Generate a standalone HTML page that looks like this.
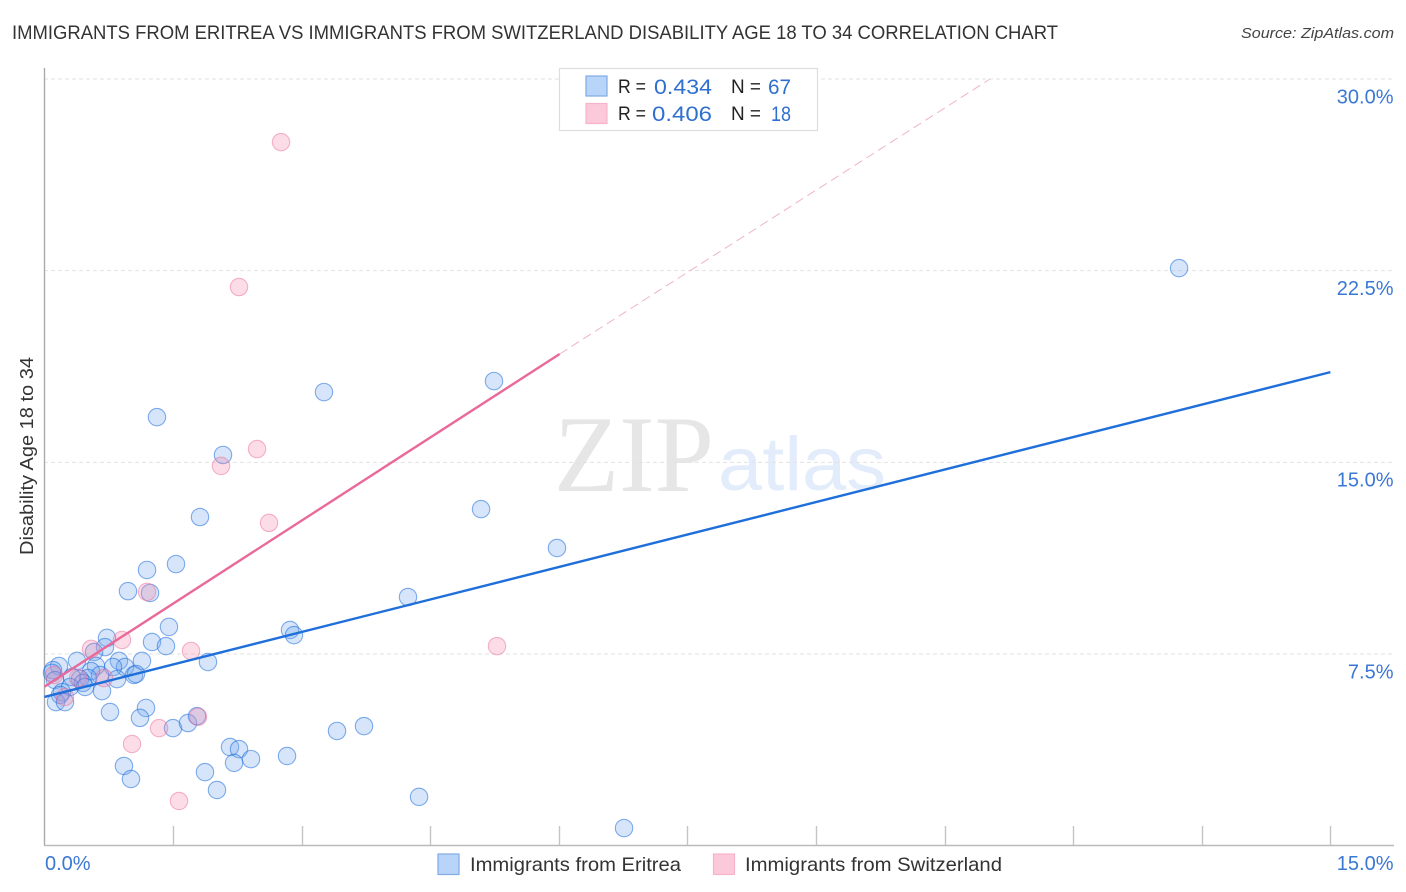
<!DOCTYPE html>
<html lang="en">
<head>
<meta charset="utf-8">
<title>Immigrants from Eritrea vs Immigrants from Switzerland Disability Age 18 to 34 Correlation Chart</title>
<style>
html,body{margin:0;padding:0;background:#fff;}
body{width:1406px;height:892px;overflow:hidden;}
svg{display:block;}
text{font-family:"Liberation Sans",sans-serif;}
</style>
</head>
<body>
<svg id="chart" width="1406" height="892" viewBox="0 0 1406 892" xmlns="http://www.w3.org/2000/svg">
  <text x="12" y="39" font-size="19" fill="#333" textLength="1046" lengthAdjust="spacingAndGlyphs">IMMIGRANTS FROM ERITREA VS IMMIGRANTS FROM SWITZERLAND DISABILITY AGE 18 TO 34 CORRELATION CHART</text>
  <text x="1241" y="38" font-size="15" font-style="italic" fill="#444" textLength="153" lengthAdjust="spacingAndGlyphs">Source: ZipAtlas.com</text>

  <g>
    <text x="554" y="491" font-size="109" fill="#e6e6e6" style="font-family:'Liberation Serif',serif" textLength="160" lengthAdjust="spacingAndGlyphs">ZIP</text>
    <text x="718" y="490" font-size="76" fill="#e3ecfa" textLength="168" lengthAdjust="spacingAndGlyphs">atlas</text>
  </g>

  <g id="grid"></g>
  <g id="axes">
    <line x1="44.5" y1="68" x2="44.5" y2="846" stroke="#aaa" stroke-width="1.4"/>
    <line x1="44" y1="845.5" x2="1394" y2="845.5" stroke="#bbb" stroke-width="1.4"/>
  </g>
  <g id="xticks"></g>
  <g id="ylabels"></g>
  <g id="xlabels"></g>

  <text transform="translate(33,456) rotate(-90)" text-anchor="middle" font-size="18.5" fill="#333" textLength="198" lengthAdjust="spacingAndGlyphs">Disability Age 18 to 34</text>

  <g id="blue-points"></g>
  <g id="pink-points"></g>
  <g id="trends"></g>

  <g>
    <rect x="559.5" y="68.5" width="258" height="62" fill="#fff" stroke="#ddd" stroke-width="1.2"/>
    <rect x="586" y="76" width="21" height="20" fill="#b8d4f8" stroke="#7fabe6" stroke-width="1.2"/>
    <rect x="586" y="103.5" width="21" height="20" fill="#fcc9da" stroke="#f7b3cb" stroke-width="1.2"/>
    <text x="618" y="93" font-size="19" fill="#222" textLength="28" lengthAdjust="spacingAndGlyphs">R =</text>
    <text x="654" y="94" font-size="21" fill="#2f6fd0" textLength="58" lengthAdjust="spacingAndGlyphs">0.434</text>
    <text x="731" y="93" font-size="19" fill="#222" textLength="30" lengthAdjust="spacingAndGlyphs">N =</text>
    <text x="768" y="94" font-size="21" fill="#2f6fd0" textLength="23" lengthAdjust="spacingAndGlyphs">67</text>
    <text x="618" y="120" font-size="19" fill="#222" textLength="28" lengthAdjust="spacingAndGlyphs">R =</text>
    <text x="652" y="121" font-size="21" fill="#2f6fd0" textLength="60" lengthAdjust="spacingAndGlyphs">0.406</text>
    <text x="731" y="120" font-size="19" fill="#222" textLength="30" lengthAdjust="spacingAndGlyphs">N =</text>
    <text x="771" y="121" font-size="21" fill="#2f6fd0" textLength="20" lengthAdjust="spacingAndGlyphs">18</text>
  </g>

  <g>
    <rect x="438" y="854" width="21" height="20.5" fill="#b8d4f8" stroke="#7fabe6" stroke-width="1.2"/>
    <text x="470" y="871" font-size="19.5" fill="#333" textLength="211" lengthAdjust="spacingAndGlyphs">Immigrants from Eritrea</text>
    <rect x="713.5" y="854" width="21" height="20.5" fill="#fcc9da" stroke="#f7b3cb" stroke-width="1.2"/>
    <text x="745" y="871" font-size="19.5" fill="#333" textLength="257" lengthAdjust="spacingAndGlyphs">Immigrants from Switzerland</text>
  </g>
</svg>
<script>
const xTickValues = [1.5, 3, 4.5, 6, 7.5, 9, 10.5, 12, 13.5, 15];
const xLabelValues = [0, 15];
const xLabelText = ["0.0%", "15.0%"];
const yTickValues = [7.5, 15, 22.5, 30];
const yTickText = ["7.5%", "15.0%", "22.5%", "30.0%"];

const eritreaX = [13.235,5.244,3.261,1.313,2.083,1.815,5.093,5.979,1.535,1.197,0.975,1.232,4.241,1.453,2.865,2.911,1.255,1.418,0.730,0.707,0.579,1.908,1.138,0.870,0.940,0.800,0.602,0.544,0.380,0.170,0.100,0.089,0.124,0.649,0.847,1.045,1.068,0.509,0.415,0.322,0.450,0.474,0.299,0.205,0.182,0.135,0.240,0.672,0.765,1.185,1.115,1.500,1.675,1.780,3.413,3.728,2.165,2.270,2.212,2.410,2.830,0.928,1.010,1.873,2.013,4.370,6.761];
const eritreaY = [22.60,18.18,17.75,16.77,15.29,12.86,13.17,11.65,11.02,10.79,9.96,9.89,9.73,8.56,8.44,8.24,7.97,7.81,8.13,7.77,7.58,7.19,7.23,7.23,6.99,6.99,7.03,6.83,7.23,7.03,6.87,6.76,6.48,6.68,6.52,6.68,6.72,6.56,6.52,6.60,6.37,6.21,6.21,6.01,5.90,5.62,5.62,6.05,5.23,5.39,5.00,4.60,4.80,5.07,4.49,4.68,3.86,3.78,3.24,3.39,3.51,3.12,2.61,2.88,2.18,1.91,0.69];

const switzerlandX = [2.760,2.270,2.480,2.060,2.620,1.197,0.905,0.544,1.710,5.279,1.337,1.022,1.570,1.792,0.695,0.112,0.240,0.392];
const switzerlandY = [27.53,21.86,15.52,14.86,12.63,9.93,8.05,7.70,7.62,7.81,4.60,3.98,1.75,5.04,6.56,6.68,5.82,6.56];

const eritreaTrendX = [0, 15];
const eritreaTrendY = [5.82, 18.53];
const switzerlandTrendX = [0, 6.01];
const switzerlandTrendY = [6.22, 19.24];
const switzerlandDashX = [6.01, 11.03];
const switzerlandDashY = [19.24, 30];

const NS = "http://www.w3.org/2000/svg";
function xScale(v){ return 44.4 + v * (1286 / 15); }
function yScale(v){ return 845.7 - v * (766.7 / 30); }
function make(tag, attrs, parent){
  const el = document.createElementNS(NS, tag);
  for (const k in attrs) el.setAttribute(k, attrs[k]);
  parent.appendChild(el);
  return el;
}

const grid = document.getElementById("grid");
const ylabels = document.getElementById("ylabels");
yTickValues.forEach(function(v, i){
  const g = make("line", {x1:44, x2:1394, y1:yScale(v), y2:yScale(v), stroke:"#e2e2e2", "stroke-width":1, "stroke-dasharray":"4 3"}, grid);
  
  
  const t = make("text", {x:1393.5, y:yScale(v) + 24.3, "text-anchor":"end", "font-size":20, fill:"#3a78d4"}, ylabels);
  t.textContent = yTickText[i];
  
  
});

const xticks = document.getElementById("xticks");
xTickValues.forEach(function(v){
  const l = make("line", {x1:Math.round(xScale(v)) + 0.5, x2:Math.round(xScale(v)) + 0.5, y1:826, y2:845, stroke:"#c4c4c4", "stroke-width":1.4}, xticks);
  
  
});

const xlabels = document.getElementById("xlabels");
xLabelValues.forEach(function(v, i){
  const isLast = i === xLabelValues.length - 1;
  const t = make("text", {x:isLast ? 1393.5 : 45, y:870, "text-anchor":isLast ? "end" : "start", "font-size":20, fill:"#3a78d4"}, xlabels);
  t.textContent = xLabelText[i];
  
  
});

const bluePoints = document.getElementById("blue-points");
eritreaX.forEach(function(x, i){
  const c = make("circle", {cx:xScale(x), cy:yScale(eritreaY[i]), r:8.7, fill:"rgba(120,170,240,0.3)", stroke:"rgba(30,110,220,0.55)", "stroke-width":1.1}, bluePoints);
  
  
});

const pinkPoints = document.getElementById("pink-points");
switzerlandX.forEach(function(x, i){
  const c = make("circle", {cx:xScale(x), cy:yScale(switzerlandY[i]), r:8.7, fill:"rgba(245,130,170,0.28)", stroke:"rgba(235,110,155,0.5)", "stroke-width":1.1}, pinkPoints);
  
  
});

const trends = document.getElementById("trends");
const dash = make("line", {x1:xScale(switzerlandDashX[0]), y1:yScale(switzerlandDashY[0]), x2:xScale(switzerlandDashX[1]), y2:yScale(switzerlandDashY[1]), stroke:"#eeb4c8", "stroke-width":1, "stroke-dasharray":"9 5"}, trends);


const pinkLine = make("line", {x1:xScale(switzerlandTrendX[0]), y1:yScale(switzerlandTrendY[0]), x2:xScale(switzerlandTrendX[1]), y2:yScale(switzerlandTrendY[1]), stroke:"#e8699a", "stroke-width":2.4}, trends);


const blueLine = make("line", {x1:xScale(eritreaTrendX[0]), y1:yScale(eritreaTrendY[0]), x2:xScale(eritreaTrendX[1]), y2:yScale(eritreaTrendY[1]), stroke:"#1f6fdb", "stroke-width":2.4}, trends);


</script>
</body>
</html>
